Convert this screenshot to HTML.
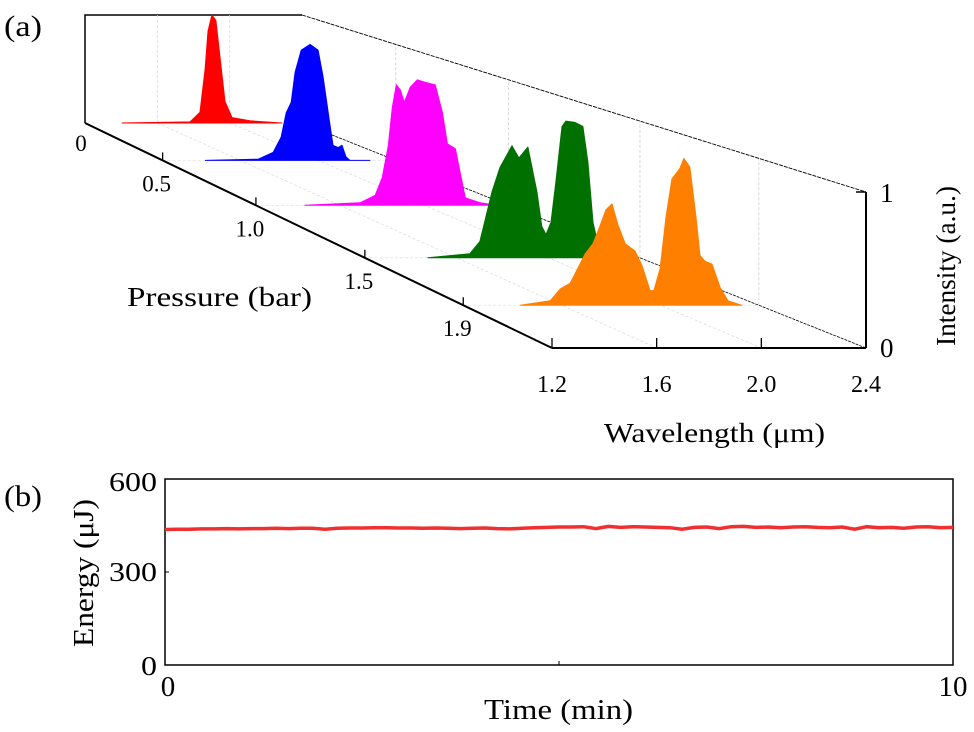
<!DOCTYPE html>
<html><head><meta charset="utf-8"><style>
html,body{margin:0;padding:0;background:#fff;}
svg{display:block;font-family:"Liberation Serif",serif;}
</style></head><body>
<svg id="fig" width="974" height="732" viewBox="0 0 974 732" xmlns="http://www.w3.org/2000/svg">
<g id="pa"></g>
<g id="pb"></g>
</svg>
<script>
// ---------- Panel (a) data ----------
const pressures = [0, 0.5, 1.0, 1.5, 1.9];
const pressureTickLabels = ["0", "0.5", "1.0", "1.5", "1.9"];
const wavelengthTicks = [1.2, 1.6, 2.0, 2.4];
const wavelengthTickLabels = ["1.2", "1.6", "2.0", "2.4"];
const spectrumColors = ["#ff0000", "#0000ff", "#ff00ff", "#007000", "#ff8000"];
const spec0_wl = [1.405,1.781,1.836,1.864,1.880,1.902,1.924,1.947,1.974,2.013,2.112,2.289];
const spec0_int = [0,0.01,0.1,0.5,0.85,1.0,0.95,0.6,0.2,0.05,0.02,0];
const spec1_wl = [1.42,1.692,1.769,1.810,1.836,1.862,1.882,1.913,1.959,2.0,2.026,2.056,2.077,2.103,2.123,2.144,2.164,2.267];
const spec1_int = [0,0.01,0.07,0.2,0.41,0.5,0.76,0.95,1.0,0.95,0.72,0.37,0.13,0.11,0.13,0.03,0,0];
const spec2_wl = [1.433,1.695,1.767,1.8,1.829,1.848,1.867,1.886,1.905,1.933,1.967,2.005,2.052,2.086,2.11,2.148,2.171,2.195,2.267,2.338];
const spec2_int = [0,0.02,0.08,0.22,0.475,0.78,0.96,0.92,0.82,0.94,1.0,0.98,0.96,0.74,0.49,0.45,0.26,0.06,0.02,0];
const spec3_wl = [1.475,1.658,1.702,1.754,1.789,1.842,1.872,1.911,1.951,1.972,1.99,2.012,2.033,2.06,2.077,2.116,2.151,2.173,2.195,2.226,2.291];
const spec3_int = [0,0.03,0.12,0.48,0.66,0.82,0.73,0.81,0.48,0.23,0.17,0.26,0.55,0.96,1.0,0.99,0.96,0.7,0.26,0.03,0];
const spec4_wl = [1.431,1.553,1.593,1.634,1.695,1.727,1.755,1.779,1.804,1.828,1.857,1.897,1.926,1.958,1.974,1.999,2.023,2.047,2.079,2.096,2.12,2.145,2.161,2.181,2.21,2.243,2.275,2.331];
const spec4_int = [0,0.03,0.11,0.15,0.35,0.42,0.54,0.65,0.69,0.55,0.42,0.37,0.27,0.1,0.1,0.25,0.6,0.86,0.93,1.0,0.94,0.6,0.34,0.3,0.28,0.12,0.03,0];
const spectraWl = [spec0_wl, spec1_wl, spec2_wl, spec3_wl, spec4_wl];
const spectraInt = [spec0_int, spec1_int, spec2_int, spec3_int, spec4_int];

// ---------- Panel (b) data ----------
const energyValues = [437,438,438,439,439,440,439,440,440,441,440,441,441,438,441,442,442,443,443,442,442,441,442,441,440,441,442,440,439,441,443,444,445,445,446,440,447,444,446,445,444,443,438,444,445,440,446,447,444,445,443,445,446,444,443,445,438,446,443,444,441,445,446,443,444];
const energyYTicks = [0, 300, 600];
const energyXTicks = [0, 5, 10];
const energyXTickLabels = ["0", "", "10"];

const NS = "http://www.w3.org/2000/svg";
function mk(parent, tag, attrs, text){
  const el = document.createElementNS(NS, tag);
  for (const k in attrs) el.setAttribute(k, attrs[k]);
  if (text !== undefined) el.textContent = text;
  parent.appendChild(el);
  return el;
}

const WL0 = 1.2, WL1 = 2.4;
function depthT(p){ return 0.299*p + 0.067*p*p; }
function projT(wl, t, z){
  const xl = 85 + 467*t, xr = 302 + 564*t;
  const yb = 123 + 225*t, h = 108 + 48*t;
  return [xl + (xr-xl)*(wl-WL0)/(WL1-WL0), yb - h*z];
}
function proj(wl, p, z){ return projT(wl, depthT(p), z); }
const pa = document.getElementById('pa');

let bw = mk(pa,'polyline',{points:"85,123 85,15 302,15",fill:"none",stroke:"#000","stroke-width":1.5});


[1.6,2.0].forEach(w=>{
  const a=projT(w,0,0), b=projT(w,0,1);
  let g=mk(pa,'line',{x1:a[0],y1:a[1],x2:b[0],y2:b[1],stroke:"#ddd","stroke-width":0.8,"stroke-dasharray":"3,2"});
  
  
});
wavelengthTicks.forEach(w=>{
  const a=projT(w,0,0), b=projT(w,1,0);
  let g=mk(pa,'line',{x1:a[0],y1:a[1],x2:b[0],y2:b[1],stroke: w===2.4?"#000":"#ddd","stroke-width":0.8,"stroke-dasharray":w===2.4?"3,1":"3,2"});
  
  
});
pressures.forEach((p,i)=>{
  if(i===0) return;
  const a=proj(1.2,p,0), b=proj(2.4,p,0), c=proj(2.4,p,1);
  let g=mk(pa,'line',{x1:a[0],y1:a[1],x2:b[0],y2:b[1],stroke:"#e2e2e2","stroke-width":0.8,"stroke-dasharray":"3,2"});
  
  
  let v=mk(pa,'line',{x1:b[0],y1:b[1],x2:c[0],y2:c[1],stroke:"#ccc","stroke-width":0.8,"stroke-dasharray":"3,2"});
  
  
});
{const a=projT(2.4,0,1), b=projT(2.4,1,1);
 let l=mk(pa,'line',{x1:a[0],y1:a[1],x2:b[0],y2:b[1],stroke:"#000","stroke-width":0.9,"stroke-dasharray":"4,1"});
 
 }

spectraWl.forEach((wls,i)=>{
  const p = pressures[i];
  const pts = wls.map((w,j)=>proj(w,p,spectraInt[i][j]));
  const s = pts.map(q=>q[0].toFixed(1)+","+q[1].toFixed(1)).join(" ");
  let poly = mk(pa,'polygon',{points:s,fill:spectrumColors[i],stroke:spectrumColors[i],"stroke-width":1,"stroke-linejoin":"round"});
  
  
});

{const a=projT(1.2,0,0), b=projT(1.2,1,0);
 let ax=mk(pa,'line',{x1:a[0],y1:a[1],x2:b[0],y2:b[1],stroke:"#000","stroke-width":2});
 
 }
pressures.forEach((p,i)=>{
  const a=proj(1.2,p,0);
  if(i>0){
    let tk=mk(pa,'line',{x1:a[0],y1:a[1],x2:a[0],y2:a[1]-8,stroke:"#000","stroke-width":1.3});
    
    
  }
  let lb=mk(pa,'text',{x:a[0]-(i===0?4:6),y:a[1]+(i===0?28:31),"font-size":23,"text-anchor":"middle",fill:"#000"},pressureTickLabels[i]);
  
  
});
{const a=projT(1.2,1,0), b=projT(2.4,1,0);
 let ax=mk(pa,'line',{x1:a[0],y1:a[1],x2:b[0],y2:b[1],stroke:"#000","stroke-width":2});
 
 }
wavelengthTicks.forEach((w,i)=>{
  const a=projT(w,1,0);
  let tk=mk(pa,'line',{x1:a[0],y1:a[1],x2:a[0],y2:a[1]-10,stroke:"#000","stroke-width":1.3});
  
  
  let lb=mk(pa,'text',{x:a[0],y:a[1]+44,"font-size":24,"text-anchor":"middle",fill:"#000"},wavelengthTickLabels[i]);
  
  
});
{const a=projT(2.4,1,0), b=projT(2.4,1,1);
 let ax=mk(pa,'line',{x1:a[0],y1:a[1],x2:b[0],y2:b[1],stroke:"#000","stroke-width":2});
 
 
 let tk=mk(pa,'line',{x1:b[0]-10,y1:b[1],x2:b[0],y2:b[1],stroke:"#000","stroke-width":1.5});
 
 
 let l1=mk(pa,'text',{x:b[0]+14,y:b[1]+10,"font-size":27,fill:"#000"},"1");
 
 
 let l0=mk(pa,'text',{x:a[0]+14,y:a[1]+9,"font-size":27,fill:"#000"},"0");
 
 }

let lblA=mk(pa,'text',{x:4,y:36,"font-size":30,fill:"#000",textLength:38,lengthAdjust:"spacingAndGlyphs"},"(a)");


let pLab=mk(pa,'text',{x:127,y:306,"font-size":27,fill:"#000",textLength:185,lengthAdjust:"spacingAndGlyphs"},"Pressure (bar)");


let wLab=mk(pa,'text',{x:604,y:442,"font-size":27,fill:"#000",textLength:221,lengthAdjust:"spacingAndGlyphs"},"Wavelength (μm)");


let iLab=mk(pa,'text',{x:-76,y:0,"font-size":27,fill:"#000",textLength:160,lengthAdjust:"spacingAndGlyphs",transform:"translate(955,270) rotate(-90)"},"Intensity (a.u.)");



// ---------- Panel (b) ----------
const pb = document.getElementById('pb');
const bx0=165, bx1=953, by0=479, by1=665;
const xS = v => bx0 + (bx1-bx0)*v/10;
const yS = v => by1 - (by1-by0)*v/600;
let frame=mk(pb,'rect',{x:bx0,y:by0,width:bx1-bx0,height:by1-by0,fill:"none",stroke:"#000","stroke-width":1.5});


energyYTicks.forEach(v=>{
  let tk=mk(pb,'line',{x1:bx0,y1:yS(v),x2:bx0+4,y2:yS(v),stroke:"#000","stroke-width":1});
  
  
  const lbl=String(v);
  let lb=mk(pb,'text',{x:bx0-8-lbl.length*16,y:yS(v)+(v===600?12:v===0?10:9),"font-size":27,fill:"#000",textLength:lbl.length*16,lengthAdjust:"spacingAndGlyphs"},lbl);
  
  
});
energyXTicks.forEach((v,i)=>{
  let tk=mk(pb,'line',{x1:xS(v),y1:by1,x2:xS(v),y2:by1-4,stroke:"#000","stroke-width":1});
  
  
  if(energyXTickLabels[i]){
    let lb=mk(pb,'text',{x:xS(v)+(v===0?3:0),y:by1+31,"font-size":29,"text-anchor":"middle",fill:"#000"},energyXTickLabels[i]);
    
    
  }
});
{const n=energyValues.length;
 const pts=energyValues.map((v,i)=>xS(10*i/(n-1)).toFixed(1)+","+yS(v).toFixed(1)).join(" ");
 let ln=mk(pb,'polyline',{points:pts,fill:"none",stroke:"#f03030","stroke-width":3.5});
 
 }
let lblB=mk(pb,'text',{x:4,y:506,"font-size":30,fill:"#000",textLength:38,lengthAdjust:"spacingAndGlyphs"},"(b)");


let tLab=mk(pb,'text',{x:484,y:719,"font-size":28,fill:"#000",textLength:149,lengthAdjust:"spacingAndGlyphs"},"Time (min)");


let eLab=mk(pb,'text',{x:-74,y:0,"font-size":28,fill:"#000",textLength:148,lengthAdjust:"spacingAndGlyphs",transform:"translate(93,573) rotate(-90)"},"Energy (μJ)");


</script>
</body></html>
